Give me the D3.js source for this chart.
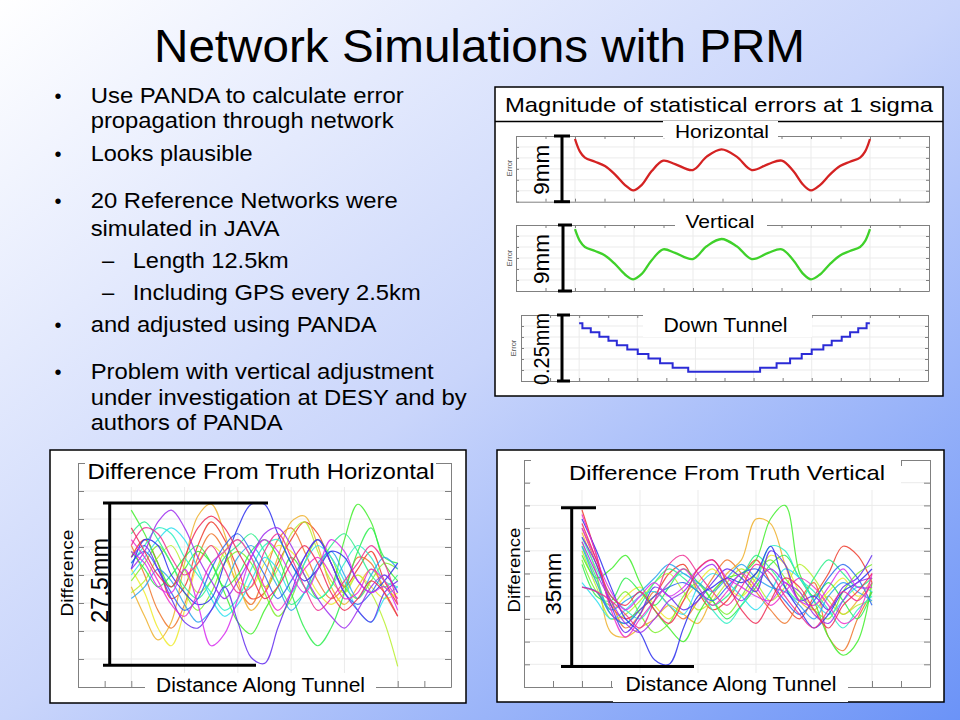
<!DOCTYPE html>
<html>
<head>
<meta charset="utf-8">
<script src="https://cdn.jsdelivr.net/npm/d3@7"></script>
<style>
  body { margin: 0; }
  svg { display: block; font-family: "Liberation Sans", Arial, sans-serif; }
</style>
</head>
<body>
<div id="slide"></div>
<script>
// ---------------- data ----------------
let bulletLines = [
  "Use PANDA to calculate error",
  "propagation through network",
  "Looks plausible",
  "20 Reference Networks were",
  "simulated in JAVA",
  "Length 12.5km",
  "Including GPS every 2.5km",
  "and adjusted using PANDA",
  "Problem with vertical adjustment",
  "under investigation at DESY and by",
  "authors of PANDA"
];
let bulletKind = ["dot", "cont", "dot", "dot", "cont", "dash", "dash", "dot", "dot", "cont", "cont"];

// 1 sigma error along the tunnel (km, mm)
let kmErr = [0, 0.21, 0.42, 0.85, 1.27, 1.69, 2.12, 2.47, 2.82, 3.25, 3.74, 4.24, 4.99, 5.58, 6.21,
             6.85, 7.49, 8.19, 8.76, 9.25, 9.68, 10.0, 10.38, 10.81, 11.23, 11.65, 12.08, 12.29, 12.5];
let horizErr = [8.59, 6.85, 6.03, 5.48, 4.89, 3.75, 2.28, 1.55, 2.28, 4.2, 5.62, 5.16, 4.34, 6.17, 7.17,
                6.17, 4.34, 5.16, 5.62, 4.2, 2.28, 1.55, 2.28, 3.75, 4.89, 5.48, 6.03, 6.85, 8.59];
let vertErr = [8.45, 6.8, 6.0, 5.45, 4.85, 3.7, 2.25, 1.59, 2.3, 4.2, 5.68, 5.2, 4.36, 6.1, 7.09,
               6.1, 4.36, 5.2, 5.68, 4.2, 2.3, 1.59, 2.25, 3.7, 4.85, 5.45, 6.0, 6.8, 8.45];

// down tunnel error, step function (km, mm)
let stepKm = [0, 0.14, 0.5, 0.87, 1.26, 1.62, 2.07, 2.52, 2.98, 3.48, 4.02, 4.69,
              7.78, 8.49, 9.07, 9.57, 10.0, 10.5, 10.86, 11.29, 11.65, 12.0, 12.36, 12.5];
let stepErr = [0.219, 0.2, 0.185, 0.168, 0.152, 0.135, 0.119, 0.102, 0.085, 0.067, 0.05, 0.035,
               0.05, 0.067, 0.085, 0.102, 0.119, 0.135, 0.152, 0.168, 0.185, 0.2, 0.219, 0.219];

// difference from truth, 20 reference networks (km, mm)
let kmDiff = [0, 0.625, 1.25, 1.875, 2.5, 3.125, 3.75, 4.375, 5, 5.625, 6.25,
              6.875, 7.5, 8.125, 8.75, 9.375, 10, 10.625, 11.25, 11.875, 12.5];

let horizDiff = [
  [3, 6, 2, -4, -2, 5, 9, 6, 1, -4, -3, 2, 6, 9, 7, 2, -2, 1, 4, -1, -5],
  [5, 0, -6, -9, -5, 3, 7, 4, -2, -5, 0, 6, 8, 4, -1, -4, -2, 3, 2, -3, -7],
  [-2, -7, -11, -8, 2, 10, 12, 7, -1, -6, -3, 3, 9, 10, 5, -2, -5, -2, 1, -2, -4],
  [1, -3, -9, -12, -6, 2, 5, 3, -1, -2, 2, 5, 4, 1, -3, -5, -3, 0, -2, -4, -3],
  [-3, -1, 3, 5, 1, -3, -1, 4, 6, 3, -2, 1, 7, 9, 4, -1, -3, 0, -3, -8, -15.5],
  [-1, 2, 5, 2, -3, -6, -3, 2, 4, 2, -3, -7, -4, 2, 6, 3, -2, -4, -1, 2, 1],
  [11, 7, 2, -2, 1, 4, 2, -3, -8, -10, -6, -2, 3, 0, -4, -2, 6, 12, 9, 2, -1],
  [4, 1, -2, 0, 3, 5, 2, -2, 0, 4, 6, 3, -3, -9, -12, -9, -3, 4, 8, 3, 2],
  [7, 9, 6, 2, -2, -4, -1, 3, 5, 7, 4, -1, -5, -3, 1, 5, 7, 4, 0, -2, 0],
  [2, 5, 8, 7, 3, 0, -3, -6, -4, 1, 5, 6, 2, -2, -4, -2, 2, 5, 3, -1, -2],
  [0, 3, 6, 8, 6, 1, -4, -7, -5, -1, 3, 1, -3, 2, 5, 3, -1, -6, -8, -4, -2],
  [-4, -2, 1, -1, -5, -8, -6, -2, 3, 5, 2, -2, -6, -3, 2, 4, 0, -4, 0, 3, 1],
  [2, 4, 1, -3, -6, -4, 1, 5, 7, 4, 0, -4, -1, 3, 6, 2, -3, -5, -3, 0, -3],
  [1, 6, 5, 0, -3, -5, -4, 2, 8, 12, 12, 7, 2, -1, 1, 4, 3, -1, -3, -1, 2],
  [3, 5, 1, -4, -8, -9, -6, -2, -8, -14, -15, -9, -3, 3, 6, 2, -3, -6, -8, -3, -1],
  [1, 4, 9, 11, 8, 3, -1, -4, -1, 3, 7, 8, 5, 0, -4, -7, -9, -6, -2, 0, -3],
  [4, 2, -2, -3, 1, -5, -12, -10, -4, 3, 6, 4, 0, -3, 1, 6, 4, -1, -3, -2, -6],
  [6, 3, -1, -5, -7, -3, 2, 4, 6, 3, -2, -6, -3, 1, 3, 0, -4, -3, 1, -1, -4],
  [5, 8, 7, 3, 0, 2, 5, 1, -3, -2, 4, 7, 3, -2, -6, -4, -1, 2, 5, 2, -5],
  [8, 4, 0, -2, 3, 8, 10, 8, 4, 0, -4, -2, 2, 5, 2, -3, -6, -4, -1, -3, -7]
];

let vertDiff = [
  [14, 4, -7, -10, -8, -5, 0, 2, -4, -8, -6, -1, 3, -2, -7, -10, -5, 0, 6, 4, -2],
  [10, 2, -6, -12, -9, -4, -7, -10, -6, -1, 3, 0, -4, -8, -11, -6, -2, -14, -17, -10, -4],
  [9, 0, -13, -14, -12, -10, -7, -9, -11, -5, 0, 3, 12, 11, 2, -6, -8, -5, -9, -6, -1],
  [7, -2, -8, -5, -3, -7, -10, -6, -2, 1, -3, -5, -1, 4, 2, -4, -7, -4, -1, -5, -3],
  [5, -3, -10, -9, -6, -2, 0, -4, -8, -6, -2, 1, -2, -6, -3, 2, -1, -6, -9, -7, -6],
  [3, -4, -7, -4, -9, -13, -11, -5, -2, -6, -9, -5, 0, 3, -1, -5, -8, -10, -4, 0, 2],
  [4, -1, 1, 4, -2, -8, -12, -15, -9, -4, -1, 0, 3, 12, 15, 0, -6, -14, -18, -15, -2],
  [2, -5, -6, -1, -4, -7, -3, 1, -2, -6, -10, -7, -3, 2, 4, -1, -5, -2, -6, -10, -4],
  [6, -1, -9, -11, -7, -2, 1, -1, -4, -7, -5, -1, 4, 1, -3, -6, -1, 3, 0, -3, -1],
  [8, 1, -5, -8, -10, -6, -2, 0, -3, -8, -11, -7, -2, 6, 5, -1, -4, -8, -12, -8, -5],
  [-2, -6, -10, -8, -5, -4, -7, -9, -3, 0, -2, -5, -8, -4, 1, -1, -6, -9, -6, -3, -4],
  [6, -2, -8, -6, -4, -1, 2, 0, -2, -4, -1, 2, -1, -3, -4, -7, -10, -5, -2, -4, -6],
  [-3, -4, -9, -11, -8, -5, -3, -2, -4, -6, -3, 0, 1, -2, -6, -9, -6, -1, 2, -1, -7],
  [12, 5, -3, -10, -13, -19, -20, -12, -5, -3, -1, -2, 0, 6, -3, -8, -12, -9, -4, -2, 1],
  [8, 2, -7, -13, -9, -3, -5, -8, -6, -2, 1, -1, -4, 5, 2, -6, -5, -8, -3, -1, 4],
  [7, 0, -6, -11, -13, -10, -6, -4, 0, 2, -3, -6, -2, 1, -2, -4, -9, -11, -6, -2, -1],
  [10, 3, -4, -8, -5, -2, -5, -3, 1, 3, -1, -3, -5, -6, -2, -6, -7, -3, 1, -3, -3],
  [13, 4, -8, -14, -10, -6, -2, 1, -3, -7, -4, 0, -3, -7, -4, -1, -3, -7, -11, -9, 0],
  [-3, -4, -6, -9, -12, -6, 2, 4, 0, -4, -7, -3, 2, 0, -5, -9, -12, -8, -4, -6, -2],
  [11, 3, -5, -7, -4, -8, -11, -6, 1, 3, -2, -8, -11, -6, -1, -3, -8, -12, -7, -4, 0]
];

// ---------------- slide ----------------
let width = 960, height = 720;

let svg = d3.select("#slide")
            .append("svg")
            .attr("width", width)
            .attr("height", height);

let grad = svg.append("defs").append("linearGradient")
    .attr("id", "bg").attr("x1", 0).attr("y1", 0).attr("x2", 1).attr("y2", 1);
grad.append("stop").attr("offset", "0%").attr("stop-color", "#ffffff");
grad.append("stop").attr("offset", "50%").attr("stop-color", "#c9d5fb");
grad.append("stop").attr("offset", "100%").attr("stop-color", "#6b93f7");

svg.append("rect").attr("width", width).attr("height", height).attr("fill", "url(#bg)");

function label(g, str, x, y, size, len, rotate) {
    let t = g.append("text")
        .attr("text-anchor", "middle")
        .attr("font-size", size)
        .attr("fill", "#000")
        .text(str);
    if (len) t.attr("textLength", len).attr("lengthAdjust", "spacingAndGlyphs");
    if (rotate) {
        t.attr("transform", `translate(${x},${y})rotate(-90)`);
    } else {
        t.attr("x", x).attr("y", y);
    }
    return t;
}

function whiteBox(g, x0, y0, x1, y1) {
    g.append("rect").attr("x", x0).attr("y", y0)
        .attr("width", x1 - x0).attr("height", y1 - y0).attr("fill", "#fff");
}

// title
label(svg, "Network Simulations with PRM", 479.5, 62, 47, 651);

// bullets
let lineY = [103, 128, 161, 208, 236, 268, 300, 332, 379, 405, 430];
let lineW = [313, 303, 162, 307, 189, 156, 288, 286, 343, 376, 192];

bulletLines.forEach(function(str, i) {
    let kind = bulletKind[i];
    let x = kind === "dash" ? 132.7 : 90.7;
    svg.append("text")
        .attr("x", x).attr("y", lineY[i])
        .attr("font-size", 22)
        .attr("textLength", lineW[i]).attr("lengthAdjust", "spacingAndGlyphs")
        .text(str);
    if (kind === "dot") {
        svg.append("text").attr("x", 58).attr("y", lineY[i]).attr("text-anchor", "middle")
            .attr("font-size", 20).text("\u2022");
    }
    if (kind === "dash") {
        svg.append("text").attr("x", 108).attr("y", lineY[i]).attr("text-anchor", "middle")
            .attr("font-size", 22).text("\u2013");
    }
});

// axes box with inward ticks on four sides
function frame(g, x, y, xt, yt, tick) {
    let fx = g.append("g");
    let xr = x.range(), yr = y.range();
    fx.append("g").attr("transform", `translate(0,${yr[0]})`)
        .call(d3.axisBottom(x).tickValues(xt).tickSize(-tick).tickSizeOuter(0).tickFormat(""));
    fx.append("g").attr("transform", `translate(0,${yr[1]})`)
        .call(d3.axisTop(x).tickValues(xt).tickSize(-tick).tickSizeOuter(0).tickFormat(""));
    fx.append("g").attr("transform", `translate(${xr[0]},0)`)
        .call(d3.axisLeft(y).tickValues(yt).tickSize(-tick).tickSizeOuter(0).tickFormat(""));
    fx.append("g").attr("transform", `translate(${xr[1]},0)`)
        .call(d3.axisRight(y).tickValues(yt).tickSize(-tick).tickSizeOuter(0).tickFormat(""));
    fx.selectAll(".domain, .tick line").attr("stroke", "#808080").attr("stroke-width", 1);
}

function grid(g, x, y, xg, yg) {
    let xr = x.range(), yr = y.range();
    g.append("g").selectAll("line").data(xg).join("line")
        .attr("x1", d => x(d)).attr("x2", d => x(d))
        .attr("y1", yr[0]).attr("y2", yr[1])
        .attr("stroke", "#ebebeb");
    g.append("g").selectAll("line").data(yg).join("line")
        .attr("y1", d => y(d)).attr("y2", d => y(d))
        .attr("x1", xr[0]).attr("x2", xr[1])
        .attr("stroke", "#ebebeb");
}

function scaleBar(g, xPos, yTop, yBot, capTop, capBot) {
    g.append("line").attr("x1", xPos).attr("x2", xPos).attr("y1", yTop).attr("y2", yBot);
    g.append("line").attr("x1", capTop[0]).attr("x2", capTop[1]).attr("y1", yTop).attr("y2", yTop);
    g.append("line").attr("x1", capBot[0]).attr("x2", capBot[1]).attr("y1", yBot).attr("y2", yBot);
    g.selectAll("line").attr("stroke", "#000").attr("stroke-width", 3);
}

let kmTicks = d3.range(-2.5, 15.01, 1.25);
let kmGrid = d3.range(0, 12.51, 2.5);

// ---------------- top right: 1 sigma errors ----------------
let errPanel = svg.append("g");
errPanel.append("rect").attr("x", 495).attr("y", 87).attr("width", 448).attr("height", 309)
    .attr("fill", "#fff").attr("stroke", "#000").attr("stroke-width", 1.5);
errPanel.append("line").attr("x1", 495).attr("x2", 943).attr("y1", 121.5).attr("y2", 121.5)
    .attr("stroke", "#000").attr("stroke-width", 1.5);
label(errPanel, "Magnitude of statistical errors at 1 sigma", 719, 111.5, 21, 428);

let smallPlots = [
    {name: "Horizontal", vals: horizErr, xs: kmErr, color: "#d42222", range: [516, 929], top: 136, bot: 201.7,
     dom: [0, 9], bar: "9mm", barX: 562, cap: [554, 570], lab: [722, 137.5, 18.5, 94], bg: [663, 121, 778, 138.5],
     errY: 168, curve: d3.curveCatmullRom.alpha(0.5)},
    {name: "Vertical", vals: vertErr, xs: kmErr, color: "#3fd12a", range: [516, 929], top: 225, bot: 291,
     dom: [0, 9], bar: "9mm", barX: 563, cap: [558, 572], lab: [720, 228, 18.5, 69], bg: [675, 210, 767, 227.5],
     errY: 258, curve: d3.curveCatmullRom.alpha(0.5)},
    {name: "Down Tunnel", vals: stepErr, xs: stepKm, color: "#2b2bd6", range: [521, 928], top: 315, bot: 381,
     dom: [0, 0.25], bar: "0.25mm", barX: 562, cap: [557, 570], lab: [725.5, 332, 19.5, 124], bg: [643, 313, 812, 337],
     errY: 348, curve: d3.curveStepAfter}
];

smallPlots.forEach(function(p) {
    let g = errPanel.append("g");
    let x = d3.scaleLinear().domain([-2.5, 15]).range(p.range);
    let y = d3.scaleLinear().domain(p.dom).range([p.bot, p.top]);
    let yt = d3.range(0, 7).map(k => p.dom[0] + k * (p.dom[1] - p.dom[0]) / 6);
    grid(g, x, y, kmGrid, yt.slice(1, 6));
    frame(g, x, y, kmTicks, yt, 3);

    let line = d3.line()
        .x((d, i) => x(p.xs[i]))
        .y(d => y(d))
        .curve(p.curve);
    g.append("path").datum(p.vals).attr("d", line)
        .attr("fill", "none").attr("stroke", p.color)
        .attr("stroke-width", p.name === "Down Tunnel" ? 2 : 2.3);

    whiteBox(g, p.bg[0], p.bg[1], p.bg[2], p.bg[3]);
    label(g, p.name, p.lab[0], p.lab[1], p.lab[2], p.lab[3]);

    scaleBar(g.append("g"), p.barX, y(p.dom[1]), y(p.dom[0]), p.cap, p.cap);
    let len = p.bar === "9mm" ? 50 : 72;
    label(g, p.bar, 548.5, (y(p.dom[0]) + y(p.dom[1])) / 2 + 1, 22, len, true);

    g.append("text").attr("font-size", 7.5).attr("fill", "#555").attr("text-anchor", "middle")
        .attr("transform", `translate(${p.name === "Down Tunnel" ? 516 : 512},${p.errY})rotate(-90)`)
        .text("Error");
});

// ---------------- bottom: difference from truth ----------------
let diffPlots = [
    {series: horizDiff, box: [50, 450, 416, 253], range: [78, 451], top: 463, bot: 687,
     dom: [-19, 19], step: 4.75,
     title: "Difference From Truth Horizontal", titleAt: [261, 478.5, 21.5, 347], titleBg: [85, 456, 436, 487],
     xlab: [260.5, 692, 19.5, 209], xlabBg: [145, 673, 376, 702],
     ylab: [73, 573, 16.5, 87],
     barVals: [12.2, -15.3], barX: 109.7, capTop: [103, 268], capBot: [103, 256],
     barText: "27.5mm", barTextAt: [108, 580.5, 23, 85]},
    {series: vertDiff, box: [497, 450, 447, 252], range: [524, 930], top: 460, bot: 687,
     dom: [-25, 25], step: 5,
     title: "Difference From Truth Vertical", titleAt: [727, 480, 21, 316], titleBg: [531, 454, 901, 490],
     xlab: [731, 691, 19.5, 211], xlabBg: [613, 673, 848, 702],
     ylab: [520, 570, 16.5, 85],
     barVals: [14.5, -20.5], barX: 571.7, capTop: [561, 596], capBot: [561, 694],
     barText: "35mm", barTextAt: [560.5, 583.7, 22, 62]}
];

diffPlots.forEach(function(p) {
    let g = svg.append("g");
    g.append("rect").attr("x", p.box[0]).attr("y", p.box[1]).attr("width", p.box[2]).attr("height", p.box[3])
        .attr("fill", "#fff").attr("stroke", "#000").attr("stroke-width", 1.5);

    let x = d3.scaleLinear().domain([-2.5, 15]).range(p.range);
    let y = d3.scaleLinear().domain(p.dom).range([p.bot, p.top]);
    let yt = d3.range(p.dom[0], p.dom[1] + 0.01, p.step);

    grid(g, x, y, kmGrid, yt.slice(1, yt.length - 1));
    frame(g, x, y, kmTicks, yt, 6);

    let line = d3.line()
        .x((d, i) => x(kmDiff[i]))
        .y(d => y(d))
        .curve(d3.curveCatmullRom.alpha(0.5));

    g.append("g").selectAll("path").data(p.series).join("path")
        .attr("d", line)
        .attr("fill", "none")
        .attr("stroke", (d, i) => d3.hsl((i * 18 + 5) % 360, 0.85, 0.55))
        .attr("stroke-width", 1.2)
        .attr("stroke-opacity", 0.85);

    whiteBox(g, p.titleBg[0], p.titleBg[1], p.titleBg[2], p.titleBg[3]);
    label(g, p.title, p.titleAt[0], p.titleAt[1], p.titleAt[2], p.titleAt[3]);
    whiteBox(g, p.xlabBg[0], p.xlabBg[1], p.xlabBg[2], p.xlabBg[3]);
    label(g, "Distance Along Tunnel", p.xlab[0], p.xlab[1], p.xlab[2], p.xlab[3]);
    label(g, "Difference", p.ylab[0], p.ylab[1], p.ylab[2], p.ylab[3], true);

    scaleBar(g.append("g"), p.barX, y(p.barVals[0]), y(p.barVals[1]), p.capTop, p.capBot);
    label(g, p.barText, p.barTextAt[0], p.barTextAt[1], p.barTextAt[2], p.barTextAt[3], true);
});
</script>
</body>
</html>
